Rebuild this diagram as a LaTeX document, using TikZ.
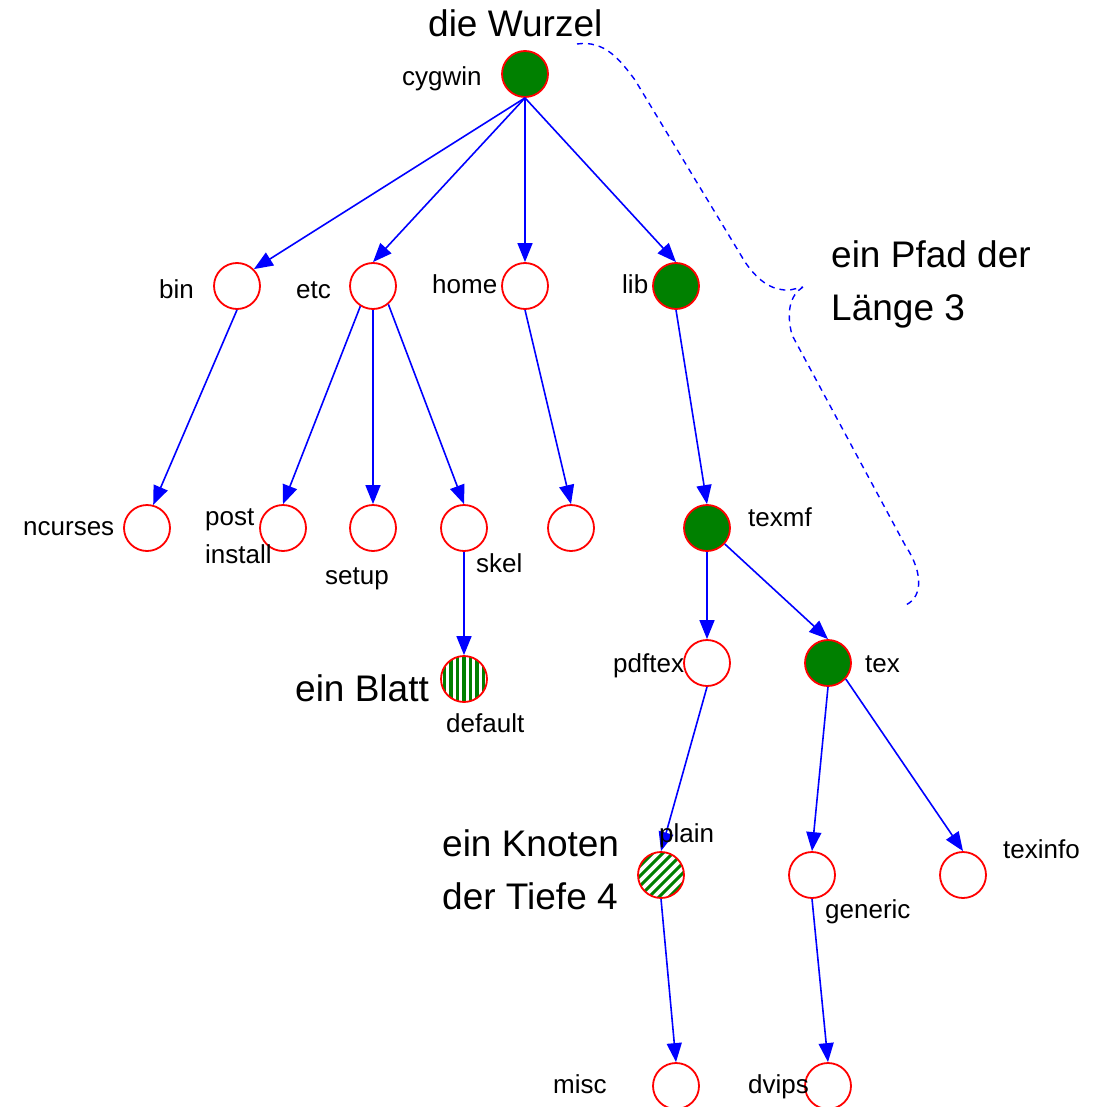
\documentclass[tikz,border=0pt]{standalone}
\usepackage{fontspec}
\setmainfont{Liberation Sans}
\usetikzlibrary{arrows.meta}
\definecolor{leafgreen}{RGB}{0,128,0}
\definecolor{edgeblue}{RGB}{0,0,255}
\definecolor{rimred}{RGB}{255,0,0}
\begin{document}
\begin{tikzpicture}[x=1pt,y=-1pt,
  vtx/.style={circle,draw=rimred,line width=1.8pt,minimum size=46pt,inner sep=0pt,fill=white},
  filledvtx/.style={vtx,fill=leafgreen},
  vstripe/.style={vtx,path picture={
      \foreach \k in {-26,-19.5,...,26}
        \draw[leafgreen,line width=3.2pt]
          ([xshift=\k pt]path picture bounding box.south) --
          ([xshift=\k pt]path picture bounding box.north);}},
  dstripe/.style={vtx,path picture={
      \foreach \k in {-60,-50,...,60}
        \draw[leafgreen,line width=3pt]
          ([xshift=\k pt]path picture bounding box.south west) -- ++(60pt,60pt);}},
  link/.style={draw=edgeblue,line width=1.6pt,-{Triangle[length=19pt,width=15pt]}},
  lbl/.style={anchor=base west,inner sep=0pt,font=\fontsize{26}{38}\selectfont,align=left},
  biglbl/.style={anchor=base west,inner sep=0pt,font=\fontsize{37}{53}\selectfont,align=left},
  brace/.style={draw=edgeblue,line width=1.4pt,dash pattern=on 6pt off 5pt}]
\useasboundingbox (0,0) rectangle (1099,1107);

% vertices of the directory tree
\node[filledvtx] (cygwin)  at (525,74)   {};
\node[vtx]       (bin)     at (237,286)  {};
\node[vtx]       (etc)     at (373,286)  {};
\node[vtx]       (home)    at (525,286)  {};
\node[filledvtx] (lib)     at (676,286)  {};
\node[vtx]       (ncurses) at (147,528)  {};
\node[vtx]       (postinst) at (283,528) {};
\node[vtx]       (setup)   at (373,528)  {};
\node[vtx]       (skel)    at (464,528)  {};
\node[vtx]       (user)    at (571,528)  {};
\node[filledvtx] (texmf)   at (707,528)  {};
\node[vstripe]   (default) at (464,679)  {};
\node[vtx]       (pdftex)  at (707,663)  {};
\node[filledvtx] (tex)     at (828,663)  {};
\node[dstripe]   (plain)   at (661,875)  {};
\node[vtx]       (generic) at (812,875)  {};
\node[vtx]       (texinfo) at (963,875)  {};
\node[vtx]       (misc)    at (676,1086) {};
\node[vtx]       (dvips)   at (828,1086) {};

% edges
\draw[link] (cygwin.south) -- (bin.45);
\draw[link] (cygwin.south) -- (etc.north);
\draw[link] (cygwin.south) -- (home.north);
\draw[link] (cygwin.south) -- (lib.north);
\draw[link] (bin.south) -- (ncurses.75);
\draw[link] (etc.238) -- (postinst.north);
\draw[link] (etc.south) -- (setup.north);
\draw[link] (etc.310) -- (skel.north);
\draw[link] (home.south) -- (user.north);
\draw[link] (lib.south) -- (texmf.north);
\draw[link] (skel.south) -- (default.north);
\draw[link] (texmf.south) -- (pdftex.north);
\draw[link] (texmf.318) -- (tex.north);
\draw[link] (pdftex.south) -- (plain.north);
\draw[link] (tex.south) -- (generic.north);
\draw[link] (tex.318) -- (texinfo.north);
\draw[link] (plain.south) -- (misc.north);
\draw[link] (generic.south) -- (dvips.north);

% brace marking the path cygwin - lib - texmf - tex
\coordinate (bstart) at (577,44);
\coordinate (btip)   at (803,287);
\coordinate (bend)   at (903,606);
\draw[brace] (bstart) .. controls (605,40) and (620,60) .. (635,80)
  -- (745,262) .. controls (760,284) and (775,291) .. (790,290) -- (btip)
  (btip) .. controls (790,295) and (786,312) .. (792,335)
  -- (905,545) .. controls (925,575) and (922,600) .. (bend);

% vertex labels
\node[lbl] (tcygwin)  at (402,86)   {cygwin};
\node[lbl] (tbin)     at (159,298)  {bin};
\node[lbl] (tetc)     at (296,298)  {etc};
\node[lbl] (thome)    at (432,293)  {home};
\node[lbl] (tlib)     at (622,293)  {lib};
\node[lbl] (tncurses) at (23,535)   {ncurses};
\node[lbl] (tpost)    at (205,563)  {post\\install};
\node[lbl] (tsetup)   at (325,584)  {setup};
\node[lbl] (tskel)    at (476,572)  {skel};
\node[lbl] (ttexmf)   at (748,526)  {texmf};
\node[lbl] (tdefault) at (446,732)  {default};
\node[lbl] (tpdftex)  at (613,672)  {pdftex};
\node[lbl] (ttex)     at (865,672)  {tex};
\node[lbl] (tplain)   at (659,842)  {plain};
\node[lbl] (tgeneric) at (825,918)  {generic};
\node[lbl] (ttexinfo) at (1003,858) {texinfo};
\node[lbl] (tmisc)    at (553,1093) {misc};
\node[lbl] (tdvips)   at (748,1093) {dvips};

% explanatory captions
\node[biglbl] (root)  at (428,37)  {die Wurzel};
\node[biglbl] (path)  at (831,320) {ein Pfad der\\Länge 3};
\node[biglbl] (leaf)  at (295,701) {ein Blatt};
\node[biglbl] (depth) at (442,909) {ein Knoten\\der Tiefe 4};
\end{tikzpicture}
\end{document}
